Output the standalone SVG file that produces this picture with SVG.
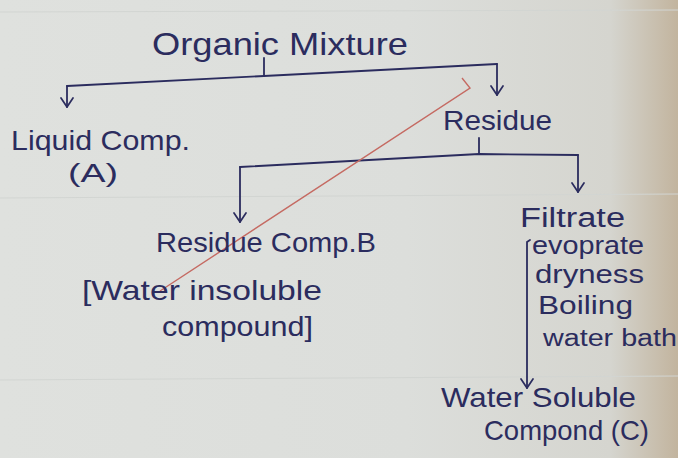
<svg xmlns="http://www.w3.org/2000/svg" width="678" height="458" viewBox="0 0 678 458">
<defs>
<linearGradient id="paper" x1="0" y1="0" x2="1" y2="0">
<stop offset="0" stop-color="#dfe1de"/>
<stop offset="0.6" stop-color="#dcdedb"/>
<stop offset="0.9" stop-color="#d5d5cf"/>
<stop offset="1" stop-color="#c2b49e"/>
</linearGradient>
<marker id="arr" viewBox="0 0 14 14" refX="12" refY="7" markerWidth="14" markerHeight="14" markerUnits="userSpaceOnUse" orient="auto">
<path d="M3,1 L12,7 L3,13" fill="none" stroke="#2b2c5e" stroke-width="1.7" stroke-linecap="round" stroke-linejoin="round"/>
</marker>
<style>
.t{font-family:"Liberation Sans","DejaVu Sans",sans-serif;fill:#2b2c5e;}
.c{fill:none;stroke:#2b2c5e;stroke-width:1.8;stroke-linecap:round;}
</style>
</defs>
<rect x="0" y="0" width="678" height="458" fill="url(#paper)"/>
<g id="ruled" stroke="#d2d5d2" stroke-width="1">
<line x1="0" y1="12" x2="678" y2="10"/>
<line x1="0" y1="198" x2="678" y2="194"/>
<line x1="0" y1="380" x2="678" y2="376"/>
</g>
<g id="connectors">
<path class="c" d="M264,58 L264,76"/>
<path class="c" d="M67,86 L264,76 L497,64"/>
<path class="c" d="M67,86 L67,107" marker-end="url(#arr)"/>
<path class="c" d="M497,64 L497,95" marker-end="url(#arr)"/>
<path class="c" d="M479,138 L479,154"/>
<path class="c" d="M240,167 L479,154 L578,155"/>
<path class="c" d="M240,167 L240,222" marker-end="url(#arr)"/>
<path class="c" d="M578,155 L578,192" marker-end="url(#arr)"/>
<path class="c" d="M530,240 L527,242 L527,388" marker-end="url(#arr)"/>
</g>
<path id="strike" d="M462,78 L470,88 L160,291" fill="none" stroke="#c56a62" stroke-width="1.4"/>
<g id="organic-mixture"><text class="t" x="152" y="55" font-size="32" textLength="256" lengthAdjust="spacingAndGlyphs">Organic Mixture</text></g>
<g id="liquid-comp">
<text class="t" x="11" y="150" font-size="28" textLength="179" lengthAdjust="spacingAndGlyphs">Liquid Comp.</text>
<text class="t" x="68" y="182" font-size="26" textLength="50" lengthAdjust="spacingAndGlyphs">(A)</text>
</g>
<g id="residue"><text class="t" x="443" y="130" font-size="28" textLength="109" lengthAdjust="spacingAndGlyphs">Residue</text></g>
<g id="residue-comp-b">
<text class="t" x="156" y="252" font-size="28" textLength="220" lengthAdjust="spacingAndGlyphs">Residue Comp.B</text>
<text class="t" x="82" y="300" font-size="28" textLength="240" lengthAdjust="spacingAndGlyphs">[Water insoluble</text>
<text class="t" x="162" y="336" font-size="28" textLength="151" lengthAdjust="spacingAndGlyphs">compound]</text>
</g>
<g id="filtrate"><text class="t" x="520" y="227" font-size="27" textLength="105" lengthAdjust="spacingAndGlyphs">Filtrate</text></g>
<g id="conditions">
<text class="t" x="532" y="254" font-size="26" textLength="112" lengthAdjust="spacingAndGlyphs">evoprate</text>
<text class="t" x="535" y="283" font-size="26" textLength="109" lengthAdjust="spacingAndGlyphs">dryness</text>
<text class="t" x="538" y="314" font-size="26" textLength="95" lengthAdjust="spacingAndGlyphs">Boiling</text>
<text class="t" x="543" y="346" font-size="23" textLength="134" lengthAdjust="spacingAndGlyphs">water bath</text>
</g>
<g id="water-soluble">
<text class="t" x="441" y="407" font-size="28" textLength="195" lengthAdjust="spacingAndGlyphs">Water Soluble</text>
<text class="t" x="484" y="440" font-size="28" textLength="165" lengthAdjust="spacingAndGlyphs">Compond (C)</text>
</g>
</svg>
